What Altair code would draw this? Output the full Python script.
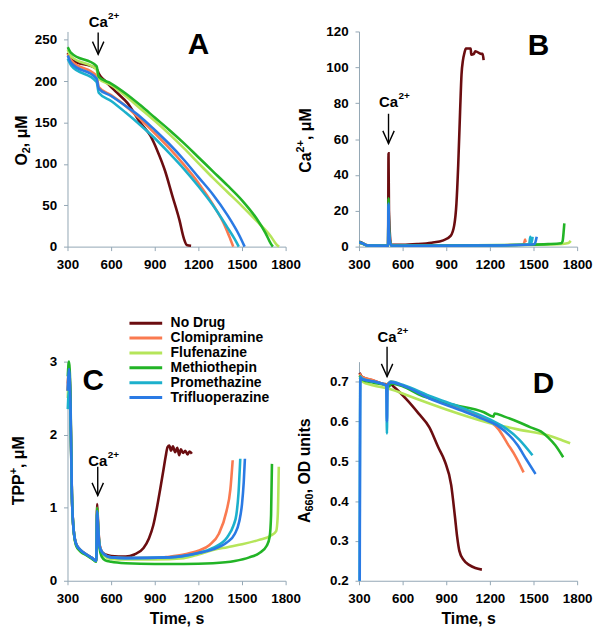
import altair as alt
import pandas as pd

FONT = "Liberation Sans"
AXC = "#93a6b4"
SERIES = ["No Drug", "Clomipramine", "Flufenazine", "Methiothepin", "Promethazine", "Trifluoperazine"]
COLORS = ["#6b0d10", "#fa7a50", "#b5e55a", "#22b426", "#1cb0cc", "#2a7ae4"]
X_TICKS = [300, 600, 900, 1200, 1500, 1800]

# ---------- Panel A: O2 (uM) ----------
A_ND_t = [302, 325, 500, 515, 560, 640, 710, 800, 870, 920, 970, 1020, 1070, 1100, 1120, 1150]
A_ND_v = [234, 226, 215, 209, 200, 186, 174, 150, 134, 115, 92, 62, 32, 10, 2, 1]
A_Clo_t = [302, 325, 500, 515, 600, 700, 800, 900, 1000, 1100, 1200, 1300, 1380, 1420, 1440]
A_Clo_v = [233, 225, 206, 193, 183, 170, 154, 137, 119, 99, 77, 51, 26, 9, 0]
A_Flu_t = [302, 325, 500, 515, 600, 700, 800, 900, 1000, 1100, 1200, 1300, 1400, 1500, 1600, 1700, 1740, 1755]
A_Flu_v = [238, 230, 214, 203, 195, 182, 167, 152, 136, 119, 101, 83, 66, 49, 31, 12, 2, 0]
A_Met_t = [302, 325, 500, 515, 600, 700, 800, 900, 1000, 1100, 1200, 1300, 1400, 1500, 1600, 1660, 1700, 1712]
A_Met_v = [241, 234, 218, 205, 197, 185, 171, 156, 141, 125, 108, 91, 74, 56, 34, 17, 3, 0]
A_Pro_t = [302, 325, 500, 515, 600, 700, 800, 900, 1000, 1100, 1200, 1300, 1400, 1450, 1478]
A_Pro_v = [227, 219, 199, 186, 176, 162, 147, 131, 113, 94, 73, 50, 23, 9, 0]
A_Tri_t = [302, 325, 500, 515, 600, 700, 800, 900, 1000, 1100, 1200, 1300, 1400, 1480, 1518]
A_Tri_v = [231, 222, 203, 191, 182, 170, 157, 141, 124, 105, 84, 63, 38, 14, 0]

# ---------- Panel B: Ca2+ (uM) ----------
B_ND_t = [302, 320, 360, 420, 500, 503, 506, 520, 600, 700, 800, 880, 930, 955, 970, 982, 995, 1005, 1015, 1025, 1035, 1068, 1072, 1090, 1100, 1140, 1150, 1157]
B_ND_v = [2.7, 2.2, 0.8, 0.6, 0.6, 52, 20, 1.2, 1.0, 1.4, 2.2, 3.5, 6, 12, 24, 45, 75, 96, 104, 108, 110.5, 110.5, 107, 107.5, 109, 107.5, 107.5, 104]
B_Clo_t = [302, 320, 360, 500, 503, 506, 520, 800, 1100, 1300, 1420, 1435, 1442, 1446]
B_Clo_v = [2.2, 1.8, 0.6, 0.5, 22, 8, 0.6, 0.5, 0.6, 0.8, 1.0, 1.8, 4.0, 2.5]
B_Flu_t = [302, 320, 360, 500, 503, 506, 520, 800, 1100, 1400, 1600, 1700, 1740, 1756]
B_Flu_v = [2.0, 1.6, 0.6, 0.5, 20, 7, 0.6, 0.5, 0.6, 0.9, 1.2, 1.5, 2.0, 3.2]
B_Met_t = [302, 320, 360, 500, 503, 506, 520, 800, 1100, 1400, 1600, 1690, 1700, 1708, 1712]
B_Met_v = [2.3, 1.9, 0.6, 0.5, 27, 9, 0.7, 0.6, 0.7, 1.0, 1.4, 1.9, 3, 9, 13]
B_Pro_t = [302, 320, 360, 500, 503, 506, 520, 800, 1100, 1400, 1470, 1478, 1483, 1490, 1494]
B_Pro_v = [2.4, 2.0, 0.6, 0.5, 23, 8, 0.6, 0.5, 0.6, 0.9, 1.2, 5.5, 2.0, 3.5, 5.5]
B_Tri_t = [302, 320, 360, 500, 503, 506, 520, 800, 1100, 1400, 1505, 1515, 1522]
B_Tri_v = [2.3, 1.9, 0.6, 0.5, 24, 8, 0.6, 0.5, 0.6, 0.9, 1.3, 3.0, 5.5]

# ---------- Panel C: TPP+ (uM) ----------
C_ND_t = [302, 310, 320, 330, 342, 360, 390, 430, 470, 498, 504, 510, 520, 535, 560, 600, 700, 760, 823, 860, 890, 915, 938, 960, 975, 988, 1000, 1012, 1025, 1040, 1055, 1068, 1080, 1095, 1110, 1125, 1140, 1155]
C_ND_v = [2.6, 2.9, 2.4, 1.2, 0.7, 0.5, 0.42, 0.36, 0.31, 0.27, 1.05, 0.8, 0.5, 0.4, 0.36, 0.34, 0.33, 0.36, 0.45, 0.58, 0.76, 1.0, 1.26, 1.52, 1.7, 1.83, 1.85, 1.78, 1.84, 1.76, 1.82, 1.72, 1.8, 1.75, 1.78, 1.73, 1.77, 1.74]
C_Clo_t = [302, 310, 320, 330, 342, 360, 390, 430, 470, 498, 504, 510, 520, 535, 560, 600, 700, 900, 1000, 1100, 1200, 1277, 1340, 1393, 1420, 1436]
C_Clo_v = [2.7, 2.9, 2.5, 1.2, 0.7, 0.5, 0.42, 0.36, 0.31, 0.27, 1.0, 0.78, 0.5, 0.4, 0.35, 0.32, 0.31, 0.31, 0.33, 0.36, 0.41, 0.49, 0.64, 0.95, 1.25, 1.65]
C_Flu_t = [302, 310, 320, 330, 342, 360, 390, 430, 470, 498, 504, 510, 520, 535, 560, 600, 700, 900, 1100, 1200, 1300, 1400, 1500, 1617, 1700, 1735, 1746, 1753]
C_Flu_v = [2.5, 2.8, 2.4, 1.2, 0.7, 0.48, 0.4, 0.35, 0.3, 0.26, 0.98, 0.76, 0.48, 0.38, 0.33, 0.3, 0.29, 0.29, 0.31, 0.36, 0.42, 0.46, 0.5, 0.56, 0.62, 0.68, 0.9, 1.56]
C_Met_t = [302, 310, 320, 330, 342, 360, 390, 430, 470, 498, 504, 510, 520, 535, 560, 600, 700, 900, 1100, 1300, 1450, 1550, 1620, 1670, 1690, 1700, 1706]
C_Met_v = [2.8, 3.0, 2.6, 1.2, 0.7, 0.48, 0.4, 0.35, 0.3, 0.26, 1.0, 0.75, 0.45, 0.33, 0.28, 0.26, 0.24, 0.23, 0.23, 0.24, 0.27, 0.32, 0.38, 0.48, 0.6, 0.9, 1.6]
C_Pro_t = [302, 310, 320, 330, 342, 360, 390, 430, 470, 498, 504, 510, 520, 535, 560, 600, 700, 1000, 1200, 1300, 1400, 1440, 1461, 1476, 1488]
C_Pro_v = [2.35, 2.6, 2.3, 1.2, 0.7, 0.5, 0.42, 0.36, 0.31, 0.27, 0.95, 0.75, 0.48, 0.4, 0.35, 0.32, 0.31, 0.32, 0.38, 0.45, 0.6, 0.75, 0.9, 1.2, 1.67]
C_Tri_t = [302, 310, 320, 330, 342, 360, 390, 430, 470, 498, 504, 510, 520, 535, 560, 600, 700, 1000, 1200, 1300, 1393, 1450, 1481, 1500, 1512, 1520]
C_Tri_v = [2.6, 2.9, 2.5, 1.2, 0.7, 0.5, 0.42, 0.36, 0.31, 0.27, 0.95, 0.75, 0.48, 0.4, 0.35, 0.32, 0.31, 0.32, 0.38, 0.43, 0.52, 0.64, 0.81, 1.05, 1.35, 1.67]

# ---------- Panel D: A660 (OD units) ----------
D_ND_t = [304, 320, 400, 490, 510, 545, 627, 709, 784, 845, 890, 934, 960, 975, 990, 1020, 1057, 1100, 1145]
D_ND_v = [0.722, 0.712, 0.702, 0.693, 0.695, 0.685, 0.655, 0.62, 0.585, 0.535, 0.5, 0.44, 0.36, 0.31, 0.275, 0.252, 0.24, 0.232, 0.228]
D_Clo_t = [304, 320, 400, 488, 500, 520, 600, 800, 1000, 1100, 1200, 1260, 1320, 1380, 1432]
D_Clo_v = [0.72, 0.712, 0.703, 0.692, 0.695, 0.70, 0.69, 0.66, 0.632, 0.617, 0.6, 0.58, 0.545, 0.51, 0.472]
D_Flu_t = [304, 320, 400, 495, 600, 709, 900, 1159, 1391, 1600, 1700, 1752]
D_Flu_v = [0.71, 0.70, 0.69, 0.683, 0.67, 0.655, 0.63, 0.60, 0.58, 0.565, 0.552, 0.545]
D_Met_t = [304, 320, 400, 495, 510, 520, 600, 709, 934, 1159, 1225, 1232, 1300, 1400, 1480, 1550, 1600, 1650, 1704]
D_Met_v = [0.715, 0.705, 0.697, 0.69, 0.688, 0.695, 0.688, 0.668, 0.643, 0.623, 0.612, 0.62, 0.612, 0.598, 0.585, 0.575, 0.56, 0.54, 0.51]
D_Pro_t = [304, 309, 320, 400, 488, 492, 496, 520, 600, 800, 1000, 1200, 1300, 1400, 1493]
D_Pro_v = [0.2, 0.712, 0.708, 0.70, 0.69, 0.57, 0.69, 0.70, 0.692, 0.662, 0.635, 0.605, 0.585, 0.555, 0.515]
D_Tri_t = [305, 310, 320, 400, 488, 492, 496, 520, 600, 800, 1000, 1159, 1250, 1391, 1450, 1514]
D_Tri_v = [0.2, 0.71, 0.706, 0.70, 0.69, 0.6, 0.69, 0.698, 0.69, 0.655, 0.628, 0.605, 0.59, 0.54, 0.505, 0.468]


def frame(pairs):
    rows = []
    for name, (ts, vs) in zip(SERIES, pairs):
        assert len(ts) == len(vs), name
        for t, v in zip(ts, vs):
            rows.append({"t": t, "v": v, "s": name})
    return pd.DataFrame(rows)


dfA = frame([(A_ND_t, A_ND_v), (A_Clo_t, A_Clo_v), (A_Flu_t, A_Flu_v), (A_Met_t, A_Met_v), (A_Pro_t, A_Pro_v), (A_Tri_t, A_Tri_v)])
dfB = frame([(B_ND_t, B_ND_v), (B_Clo_t, B_Clo_v), (B_Flu_t, B_Flu_v), (B_Met_t, B_Met_v), (B_Pro_t, B_Pro_v), (B_Tri_t, B_Tri_v)])
dfC = frame([(C_ND_t, C_ND_v), (C_Clo_t, C_Clo_v), (C_Flu_t, C_Flu_v), (C_Met_t, C_Met_v), (C_Pro_t, C_Pro_v), (C_Tri_t, C_Tri_v)])
dfD = frame([(D_ND_t, D_ND_v), (D_Clo_t, D_Clo_v), (D_Flu_t, D_Flu_v), (D_Met_t, D_Met_v), (D_Pro_t, D_Pro_v), (D_Tri_t, D_Tri_v)])

W = 220

# approximate Arial-bold advance widths (em) for laying out the rotated y titles
CW = {"O": .778, "T": .611, "P": .667, "A": .722, "C": .722, "D": .722, "M": .833, "a": .556, "u": .611,
      "n": .611, "i": .278, "t": .333, "s": .556, ",": .278, " ": .278, "μ": .611, "+": .584}


def text_w(s, size):
    return sum(CW.get(c, .556) for c in s) * size


def axis(values, title=None, fmt=None):
    kw = dict(values=values, grid=False, labelFont=FONT, labelFontSize=13.5, labelFontWeight="bold",
              labelColor="black", domainColor=AXC, tickColor=AXC, tickSize=4, labelPadding=7,
              titleFont=FONT, titleFontSize=16, titleFontWeight="bold", titleColor="black",
              titlePadding=6, labelOverlap=False, labelFlush=False, title=title if title else "")
    if fmt:
        kw["format"] = fmt
    return alt.Axis(**kw)


def ytitle_layers(parts, xpos, ycenter):
    # parts: list of (text, fontSize, dy) laid out bottom-to-top, rotated 270 degrees
    total = sum(text_w(t, s) for t, s, _ in parts)
    start = -total / 2
    layers = []
    one = alt.Chart(pd.DataFrame({"k": [0]}))
    for t, s, dy in parts:
        layers.append(one.mark_text(text=t, font=FONT, fontWeight="bold", fontSize=s, angle=270,
                                    align="left", baseline="middle", dx=start, dy=dy, color="black")
                      .encode(x=alt.value(xpos), y=alt.value(ycenter)))
        start += text_w(t, s)
    return layers


def panel(df, ydom, yticks, yparts, ytx, h, letter, lxy, t_ca, ca_y, shaft, xtitle=None, yfmt=None, legend=False):
    if legend:
        leg = alt.Legend(orient="none", legendX=61, legendY=-46, title=None, symbolType="stroke",
                         symbolSize=1089, symbolStrokeWidth=3, labelFont=FONT, labelFontSize=14,
                         labelFontWeight="bold", labelColor="black", clipHeight=14.5, rowPadding=0,
                         labelOffset=7, padding=0)
    else:
        leg = None
    xt = alt.X("t:Q", scale=alt.Scale(domain=[300, 1800], nice=False, zero=False),
               axis=axis(X_TICKS, title=xtitle, fmt="d"))
    yt = alt.Y("v:Q", scale=alt.Scale(domain=ydom, nice=False, zero=False), axis=axis(yticks, fmt=yfmt))
    col = alt.Color("s:N", scale=alt.Scale(domain=SERIES, range=COLORS), legend=leg)
    lines = alt.Chart(df).mark_line(strokeWidth=2.6, interpolate="monotone").encode(x=xt, y=yt, color=col)

    one = alt.Chart(pd.DataFrame({"k": [0]}))
    rule = one.mark_rule(color="black", strokeWidth=1.4).encode(
        x=alt.datum(t_ca), y=alt.value(shaft[0]), y2=alt.value(shaft[1]))
    head = one.mark_point(shape="M-0.45,-1L0,0L0.45,-1", filled=False, color="black", strokeWidth=1.4,
                          size=650, opacity=1).encode(x=alt.datum(t_ca), y=alt.value(shaft[1]))
    ca = one.mark_text(text="Ca", font=FONT, fontWeight="bold", fontSize=15, align="center",
                       baseline="middle", color="black").encode(x=alt.datum(t_ca), y=alt.value(ca_y))
    sup = one.mark_text(text="2+", font=FONT, fontWeight="bold", fontSize=10, align="left",
                        baseline="middle", dx=10, dy=-6, color="black").encode(x=alt.datum(t_ca), y=alt.value(ca_y))
    let = one.mark_text(text=letter, font=FONT, fontWeight="bold", fontSize=30, align="center",
                        baseline="middle", color="black").encode(x=alt.value(lxy[0]), y=alt.value(lxy[1]))
    yl = ytitle_layers(yparts, ytx, 110)
    return alt.layer(lines, rule, head, ca, sup, let, *yl).properties(width=W, height=h)


pA = panel(dfA, [0, 260], [0, 50, 100, 150, 200, 250],
           [("O", 16, 0), ("2", 11, 5), (", μM", 16, 0)], -46, 217, "A", (132, 14), 511, -10, (1, 23))
pB = panel(dfB, [0, 120], [0, 20, 40, 60, 80, 100, 120],
           [("Ca", 16, 0), ("2+", 11, -5), (", μM", 16, 0)], -53, 217, "B", (181, 15), 503, 71, (83, 113))
pC = panel(dfC, [0, 3], [0, 1, 2, 3],
           [("TPP", 16, 0), ("+", 11, -5), (", μM", 16, 0)], -49, 221, "C", (26, 20), 508, 100, (106, 135),
           xtitle="Time, s", legend=True)
pD = panel(dfD, [0.2, 0.75], [0.2, 0.3, 0.4, 0.5, 0.6, 0.7],
           [("A", 16, 0), ("660", 11, 5), (", OD units", 16, 0)], -54, 221, "D", (186, 23), 493, -25, (-15, 15),
           xtitle="Time, s", yfmt=".1f")

chart = alt.concat(pA, pB, pC, pD, columns=2, spacing={"row": 116, "column": 74}, bounds="flush").resolve_scale(
    color="independent").properties(padding={"left": 0, "top": 0, "right": 0, "bottom": 0}).configure_view(stroke=None)

chart.save("out.html", embed_options={"renderer": "svg", "actions": False})
